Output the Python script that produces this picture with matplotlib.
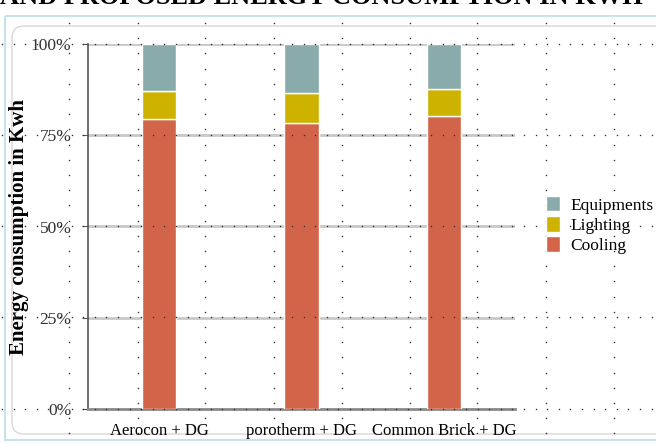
import matplotlib
matplotlib.use('Agg')
import matplotlib.pyplot as plt
from matplotlib.patches import FancyBboxPatch, Rectangle
import numpy as np

# data (share of total, %)
categories = ['Aerocon + DG', 'porotherm + DG', 'Common Brick + DG']
cooling = [79.5, 78.4, 80.3]
lighting = [7.6, 8.2, 7.4]
equipments = [12.9, 13.4, 12.3]
yticks = [0, 25, 50, 75, 100]
ytick_labels = ['0%', '25%', '50%', '75%', '100%']

c_cool = '#d2644a'
c_light = '#cdb300'
c_equip = '#8aabab'
serif = 'Liberation Serif'

W, H = 656, 444
fig = plt.figure(figsize=(W / 100, H / 100), dpi=100)

# background / frame layer in pixel coords
bg = fig.add_axes([0, 0, 1, 1], zorder=0)
bg.set_xlim(0, W)
bg.set_ylim(H, 0)
bg.axis('off')
bg.add_patch(Rectangle((5, 16), 660, 424, fill=False, ec='#c6e4e8', lw=1.5))
bg.add_patch(FancyBboxPatch((12, 26), 660, 408, boxstyle='round,pad=0,rounding_size=12',
                            fill=False, ec='#d8d8d8', lw=1.0))
# title is cut off at the top edge in the source screenshot
bg.text(W * 0.49, -2, 'AND PROPOSED ENERGY CONSUMPTION IN KWH', ha='center', va='center',
        fontsize=19, fontweight='bold', family=serif, color='black')

# chart
ax = fig.add_axes([88 / W, 35 / H, 427 / W, 365 / H], zorder=1)
ax.patch.set_alpha(0)
x = np.arange(len(categories))
bw = 0.24
bot2 = np.array(cooling)
bot3 = bot2 + np.array(lighting)
ax.bar(x, cooling, bw, color=c_cool, edgecolor='white', lw=1, label='Cooling', zorder=3)
ax.bar(x, lighting, bw, bottom=bot2, color=c_light, edgecolor='white', lw=1, label='Lighting', zorder=3)
ax.bar(x, equipments, bw, bottom=bot3, color=c_equip, edgecolor='white', lw=1, label='Equipments', zorder=3)

ax.set_xlim(-0.5, 2.5)
ax.set_ylim(0, 100)
ax.set_yticks(yticks)
ax.set_yticklabels(ytick_labels, family=serif, fontsize=12.5, color='#333333')
ax.set_xticks(x)
ax.set_xticklabels(categories, family=serif, fontsize=12)
ax.tick_params(axis='x', length=0, pad=10)
ax.tick_params(axis='y', length=4, color='#555555', pad=8, direction='out')
for yv in yticks[1:]:
    ax.axhline(yv, color='#c8c8c8', lw=2, zorder=1)
for s in ['top', 'right']:
    ax.spines[s].set_visible(False)
ax.spines['left'].set_color('#555555')
ax.spines['left'].set_linewidth(1.2)
ax.spines['bottom'].set_color('#8a8a8a')
ax.spines['bottom'].set_linewidth(2)

fig.text(19 / W, 1 - 227 / H, 'Energy consumption in Kwh', rotation=90, ha='center', va='center',
         fontsize=15, fontweight='bold', family=serif)

h, l = ax.get_legend_handles_labels()
fig.legend(h[::-1], l[::-1], loc='center left', bbox_to_anchor=(546 / W, 1 - 225 / H),
           frameon=False, prop={'family': serif, 'size': 12.5}, handlelength=0.8, handleheight=1.0,
           handletextpad=0.6, labelspacing=0.15, borderpad=0, borderaxespad=0)

# dotted guide grid over everything
top = fig.add_axes([0, 0, 1, 1], zorder=5)
top.set_xlim(0, W)
top.set_ylim(H, 0)
top.axis('off')
top.patch.set_alpha(0)
col_x = [69, 138, 205, 274, 342, 410, 477, 546, 614]
row_y = [44, 135, 226, 317, 409]
ys = np.arange(23, 440, 15.2)
xs = np.arange(2, W, 11.6)
for cx in col_x:
    top.scatter([cx] * len(ys), ys, s=1.2, color='#333333', lw=0)
for ry in row_y:
    top.scatter(xs, [ry] * len(xs), s=1.2, color='#333333', lw=0)

fig.savefig('out.png', dpi=100)
